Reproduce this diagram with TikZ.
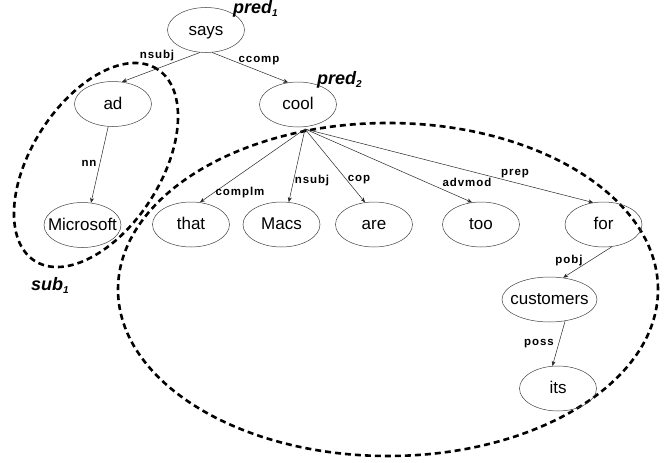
\documentclass[tikz,border=0pt]{standalone}
\usepackage{fontspec}
\setmainfont{Liberation Sans}
\newfontfamily\labfont[LetterSpace=8]{Liberation Sans}
\usetikzlibrary{shapes.geometric,arrows.meta}
\begin{document}
\begin{tikzpicture}[x=1pt,y=-1pt,
  word/.style={ellipse,draw=black!75,line width=0.5pt,minimum width=77pt,minimum height=45pt,
    inner sep=0pt,text height=12.5pt,text depth=2.5pt,font=\fontsize{17}{17}\selectfont},
  dep/.style={draw=black!85,line width=0.5pt,-{Stealth[length=5pt,width=4pt]}},
  lab/.style={font=\labfont\fontsize{11.5}{12}\bfseries\selectfont,inner sep=0pt},
  group/.style={draw=black,line width=2.6pt,dash pattern=on 6pt off 4pt,ellipse,inner sep=0pt},
  tag/.style={font=\fontsize{18}{18}\bfseries\itshape\selectfont,inner sep=0pt,anchor=base west}]
\useasboundingbox (0,0) rectangle (665,463);

% groups
\node[group,minimum width=227.6pt,minimum height=129.4pt,rotate=57.4] (subgrp) at (96,165) {};
\node[group,minimum width=540pt,minimum height=333pt] (predgrp) at (388,289.5) {};

% words
\node[word] (says) at (206,30) {\makebox[0pt]{says}};
\node[word] (ad) at (113,104) {\makebox[0pt]{ad}};
\node[word] (cool) at (298,104.5) {\makebox[0pt]{cool}};
\node[word] (ms) at (82.5,225) {\makebox[0pt]{Microsoft}};
\node[word] (that) at (191,224.5) {\makebox[0pt]{that}};
\node[word] (macs) at (281.5,224.5) {\makebox[0pt]{Macs}};
\node[word] (are) at (374,224.5) {\makebox[0pt]{are}};
\node[word] (too) at (481,224.5) {\makebox[0pt]{too}};
\node[word] (for) at (603.5,224.5) {\makebox[0pt]{for}};
\node[word,minimum width=95pt] (cust) at (549.5,299.5) {\makebox[0pt]{customers}};
\node[word] (its) at (558,388.5) {\makebox[0pt]{its}};

% dependencies
\coordinate (hub) at (305,129);
\draw[dep] (says.255) -- (ad.68);
\draw[dep] (says.285) -- (cool.114);
\draw[dep] (ad.258) -- (ms.69);
\draw[dep] (hub) -- (that.68);
\draw[dep] (hub) -- (macs.72);
\draw[dep] (hub) -- (are.112);
\draw[dep] (hub) -- (too.112);
\draw[dep] (hub) -- (for.115);
\draw[dep] (for.291) -- (cust.58);
\draw[dep] (cust.306) -- (its.104);

% labels
\node[lab] (lnsubj1) at (157,56) {nsubj};
\node[lab] (lccomp) at (259,61) {ccomp};
\node[lab] (lnn) at (89,163) {nn};
\node[lab] (lcomplm) at (240,193) {complm};
\node[lab] (lnsubj2) at (312,181) {nsubj};
\node[lab] (lcop) at (359,180) {cop};
\node[lab] (ladvmod) at (467,182) {advmod};
\node[lab] (lprep) at (515,174) {prep};
\node[lab] (lpobj) at (569,261) {pobj};
\node[lab] (lposs) at (539,344) {poss};

% tags
\node[tag] (pred1) at (233,13) {pred\raisebox{-3.5pt}{\fontsize{10}{10}\selectfont 1}};
\node[tag] (pred2) at (317,84) {pred\raisebox{-3.5pt}{\fontsize{10}{10}\selectfont 2}};
\node[tag] (sub1) at (31,290) {sub\raisebox{-3.5pt}{\fontsize{10}{10}\selectfont 1}};
\end{tikzpicture}
\end{document}
